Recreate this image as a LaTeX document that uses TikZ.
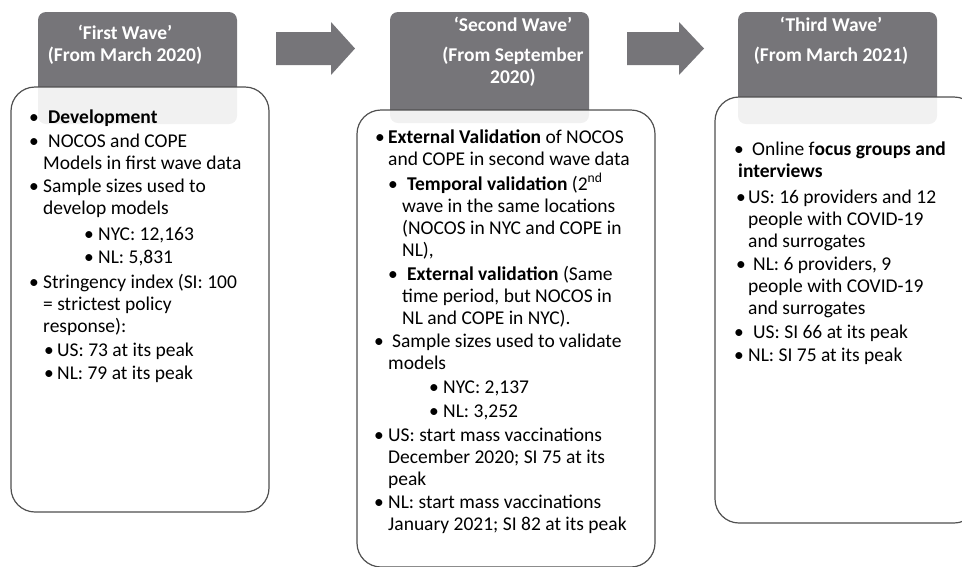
\documentclass[tikz,border=0pt]{standalone}
\usepackage{fontspec}
\setmainfont{Carlito}
\usetikzlibrary{positioning}
\definecolor{wavegray}{RGB}{118,117,121}
\definecolor{boxline}{RGB}{80,80,80}
\tikzset{
  header/.style={fill=wavegray, rounded corners=8pt},
  panel/.style={draw=boxline, line width=1.2pt, fill=white, fill opacity=0.9, rounded corners=24pt},
  title/.style={text=white, font=\fontsize{19.5}{22}\selectfont\bfseries, align=center, inner sep=0pt, anchor=base},
  item/.style={font=\fontsize{19.5}{22}\selectfont, align=left, anchor=base west, inner sep=0pt},
}
\newcommand{\bu}[1]{\makebox[#1][l]{\hspace*{-2pt}\textbullet}}

\begin{document}
\begin{tikzpicture}[x=1pt, y=-1pt]
    \useasboundingbox (0,0) rectangle (962,566);

    % block arrows between the waves
    \fill[wavegray] (276,32) -- (331,32) -- (331,22) -- (355,48.5) -- (331,75) -- (331,65) -- (276,65) -- cycle;
    \fill[wavegray] (627,32) -- (679,32) -- (679,22) -- (704,48.5) -- (679,75) -- (679,65) -- (627,65) -- cycle;

    % headers and panels
    \fill[header] (38,12) rectangle (237,124);
    \fill[header] (390,12) rectangle (589,123);
    \fill[header] (738,12) rectangle (937,124);
    \draw[panel] (11,87) rectangle (269,512);
    \draw[panel] (357,110) rectangle (655,567);
    \draw[panel] (715,97) rectangle (978,523);

    % (nodes sit on the baseline of their last line)
    \node[title] (t1) at (125,61) {‘First Wave’\\(From March 2020)};
    \node[title] (t2) at (513,83) {‘Second Wave’\\[8pt](From September\\2020)};
    \node[title] (t3) at (831,61) {‘Third Wave’\\[8pt](From March 2021)};

    % first wave
    \node[item] (dev) at (31,123) {\bu{17pt}\textbf{Development}};
    \node[item] (mod) at (31,169) {\bu{17pt}NOCOS and COPE\\\hspace*{12pt}Models in first wave data};
    \node[item] (ss1) at (31,214) {\bu{12pt}Sample sizes used to\\\hspace*{12pt}develop models};
    \node[item] (nyc1) at (86,240) {\bu{12pt}NYC: 12,163};
    \node[item] (nl1) at (86,263) {\bu{12pt}NL: 5,831};
    \node[item] (si1) at (31,332) {\bu{12pt}Stringency index (SI: 100\\\hspace*{12pt}= strictest policy\\\hspace*{12pt}response):};
    \node[item] (us1) at (46,356) {\bu{11pt}US: 73 at its peak};
    \node[item] (nlp1) at (46,379) {\bu{11pt}NL: 79 at its peak};

    % second wave
    \node[item] (ext) at (377,165) {\bu{11pt}\textbf{External Validation} of NOCOS\\\hspace*{11pt}and COPE in second wave data};
    \node[item] (tmp) at (390,256) {\bu{17pt}\textbf{Temporal validation} (2\textsuperscript{nd}\\\hspace*{12pt}wave in the same locations\\\hspace*{12pt}(NOCOS in NYC and COPE in\\\hspace*{12pt}NL),};
    \node[item] (geo) at (390,324) {\bu{17pt}\textbf{External validation} (Same\\\hspace*{12pt}time period, but NOCOS in\\\hspace*{12pt}NL and COPE in NYC).};
    \node[item] (ss2) at (376,369) {\bu{16pt}Sample sizes used to validate\\\hspace*{12pt}models};
    \node[item] (nyc2) at (431,393) {\bu{12pt}NYC: 2,137};
    \node[item] (nl2) at (431,417) {\bu{12pt}NL: 3,252};
    \node[item] (vus) at (376,485) {\bu{12pt}US: start mass vaccinations\\\hspace*{12pt}December 2020; SI 75 at its\\\hspace*{12pt}peak};
    \node[item] (vnl) at (376,530) {\bu{12pt}NL: start mass vaccinations\\\hspace*{12pt}January 2021; SI 82 at its peak};

    % third wave
    \node[item] (foc) at (736,177) {\bu{16pt}Online f\textbf{ocus groups and}\\\hspace*{2pt}\textbf{interviews}};
    \node[item] (us3) at (738,247) {\bu{10pt}US: 16 providers and 12\\\hspace*{10pt}people with COVID-19\\\hspace*{10pt}and surrogates};
    \node[item] (nl3) at (738,314) {\bu{15pt}NL: 6 providers, 9\\\hspace*{10pt}people with COVID-19\\\hspace*{10pt}and surrogates};
    \node[item] (usp3) at (736,338) {\bu{17pt}US: SI 66 at its peak};
    \node[item] (nlp3) at (736,361) {\bu{12pt}NL: SI 75 at its peak};
\end{tikzpicture}
\end{document}
